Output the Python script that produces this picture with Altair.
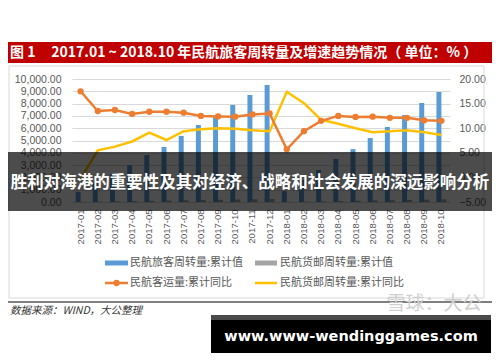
import altair as alt
import pandas as pd

months = ["2017-01", "2017-02", "2017-03", "2017-04", "2017-05", "2017-06",
          "2017-07", "2017-08", "2017-09", "2017-10", "2017-11", "2017-12",
          "2018-01", "2018-02", "2018-03", "2018-04", "2018-05", "2018-06",
          "2018-07", "2018-08", "2018-09", "2018-10"]
passenger_cum = [830, 1600, 2270, 3000, 3820, 4470, 5370, 6260, 6900, 7890, 8700, 9510,
                 880, 1800, 2600, 3500, 4300, 5200, 6100, 7070, 8050, 8940]
cargo_cum = [18, 35, 55, 75, 96, 117, 138, 159, 180, 202, 223, 244,
             20, 38, 59, 81, 102, 124, 146, 168, 190, 212]
passenger_yoy = [17.5, 13.5, 13.7, 12.9, 13.35, 13.35, 13.15, 12.5, 12.4, 12.35, 12.8, 13.0,
                 5.7, 9.4, 11.5, 12.5, 12.3, 12.35, 12.1, 12.1, 11.6, 11.5]
cargo_yoy = [-0.3, 5.5, 6.25, 7.3, 9.1, 7.6, 9.4, 9.8, 10.0, 9.9, 9.6, 9.4,
             17.4, 15.1, 11.7, 10.9, 10.0, 9.2, 9.4, 9.6, 9.2, 8.6]

series = ["民航旅客周转量:累计值", "民航货邮周转量:累计值",
          "民航客运量:累计同比", "民航货邮周转量:累计同比"]
colors = ["#5B9BD5", "#A5A5A5", "#ED7D31", "#FFC000"]

NB = "\u00a0"
title_text = ("图" + NB + "1" + NB * 5 + "2017.01" + NB + "~" + NB + "2018.10" + NB
              + "年民航旅客周转量及增速趋势情况（" + NB + "单位：%" + NB + "）")
source_text = "数据来源：WIND，大公整理"
watermark_text = "雪球：大公"
overlay_text = "胜利对海港的重要性及其对经济、战略和社会发展的深远影响分析"
site_text = "www.www-wendinggames.com"

left_ticks = list(range(0, 10001, 1000))
right_ticks = [-5, 0, 5, 10, 15, 20]

bars_df = pd.DataFrame({
    "month": months * 2,
    "series": [series[0]] * len(months) + [series[1]] * len(months),
    "value": passenger_cum + cargo_cum,
})
orange_df = pd.DataFrame({"month": months, "yoy": passenger_yoy})
yellow_df = pd.DataFrame({"month": months, "yoy": cargo_yoy})

LBL = "#595959"
CJK = "Noto Sans CJK SC"
xscale = alt.Scale(domain=months, paddingInner=0.42, paddingOuter=0.21)
xaxis = alt.Axis(title=None, labelAngle=270, labelFontSize=9.5, labelColor=LBL,
                 labelFont="Liberation Sans", ticks=False, domainColor="#D9D9D9",
                 labelPadding=7, zindex=0)

bars = alt.Chart(bars_df).mark_bar().encode(
    x=alt.X("month:N", scale=xscale, axis=xaxis),
    xOffset=alt.XOffset("series:N", scale=alt.Scale(domain=series[:2])),
    y=alt.Y("value:Q", scale=alt.Scale(domain=[0, 10000], nice=False),
            axis=alt.Axis(title=None, values=left_ticks, format=",.2f", labelFontSize=10.5,
                          labelColor=LBL, labelFont="Liberation Sans", ticks=False,
                          domain=False, gridColor="#D9D9D9", labelPadding=11, zindex=0)),
    color=alt.Color("series:N", scale=alt.Scale(domain=series[:2], range=colors[:2]),
                    legend=None),
)

raxis = alt.Axis(title=None, orient="right", values=right_ticks, format=".2f",
                 labelFontSize=10.5, labelColor=LBL, labelFont="Liberation Sans",
                 ticks=False, domain=False, grid=False, labelPadding=9, zindex=0)
yr = alt.Y("yoy:Q", scale=alt.Scale(domain=[-5, 20], nice=False), axis=raxis)

orange_line = alt.Chart(orange_df).mark_line(color=colors[2], strokeWidth=2.5).encode(
    x=alt.X("month:N", scale=xscale, axis=xaxis), y=yr)
orange_pts = alt.Chart(orange_df).mark_point(color=colors[2], filled=True, size=40,
                                             opacity=1).encode(
    x=alt.X("month:N", scale=xscale, axis=xaxis), y=yr)
yellow_line = alt.Chart(yellow_df).mark_line(color=colors[3], strokeWidth=2.5).encode(
    x=alt.X("month:N", scale=xscale, axis=xaxis), y=yr)

core = alt.layer(bars, alt.layer(yellow_line, orange_line, orange_pts)).resolve_scale(
    y="independent")

one = alt.Data(values=[{"k": 1}])


def rect(x, x2, y, y2, **kw):
    return alt.Chart(one).mark_rect(**kw).encode(
        x=alt.value(x), x2=alt.value(x2), y=alt.value(y), y2=alt.value(y2))


def rule(x, x2, y, **kw):
    return alt.Chart(one).mark_rule(**kw).encode(
        x=alt.value(x), x2=alt.value(x2), y=alt.value(y))


def txt(t, x, y, **kw):
    return alt.Chart(one).mark_text(text=t, **kw).encode(x=alt.value(x), y=alt.value(y))


deco = [
    rect(-63, 412, -13, 219, fill="white", fillOpacity=0, stroke="#D9D9D9", strokeWidth=1),
    rect(-64, 420, -37, -16, color="#C00000"),
    txt(title_text, -62, -26.5, align="left", baseline="middle", font=CJK,
        fontWeight="bold", fontSize=14, color="white"),
    # legend
    rect(33, 56, 181.5, 186.5, color=colors[0]),
    txt(series[0], 58, 184, align="left", baseline="middle", font=CJK, fontSize=11, color=LBL),
    rect(183, 205, 181.5, 186.5, color=colors[1]),
    txt(series[1], 208, 184, align="left", baseline="middle", font=CJK, fontSize=11, color=LBL),
    rule(33, 56, 204, color=colors[2], strokeWidth=2.5),
    alt.Chart(one).mark_point(color=colors[2], filled=True, size=40, opacity=1).encode(
        x=alt.value(44.5), y=alt.value(204)),
    txt(series[2], 58, 204, align="left", baseline="middle", font=CJK, fontSize=11, color=LBL),
    rule(183, 205, 204, color=colors[3], strokeWidth=2.5),
    txt(series[3], 208, 204, align="left", baseline="middle", font=CJK, fontSize=11, color=LBL),
    # source line & text
    rule(-64, 420, 223, color="#808080", strokeWidth=2),
    txt(source_text, -62, 232, align="left", baseline="middle", font=CJK, fontSize=10.5,
        fontStyle="italic", color="#333333"),
    txt(watermark_text, 362, 225, align="center", baseline="middle", font=CJK,
        fontSize=19, color="#CFCFCF"),
    # overlay band
    rect(-64, 420, 73, 132, color="black", opacity=0.7),
    txt(overlay_text, 178, 104, align="center", baseline="middle", font=CJK,
        fontWeight="bold", fontSize=16.5, color="white"),
    # black box
    rect(139, 419, 236, 274, color="#4A4A4A"),
    rect(139, 419, 241, 274, color="black"),
    txt(site_text, 279, 258, align="center", baseline="middle", font="DejaVu Sans",
        fontWeight="bold", fontSize=14.5, color="white"),
]

chart = alt.layer(core, *deco).properties(
    width=378, height=123,
    padding={"left": 64, "top": 71, "right": 42, "bottom": 152},
    autosize=alt.AutoSizeParams(type="none"),
    background="white",
).configure_view(stroke=None)

chart.save("out.html", embed_options={"renderer": "svg", "actions": False})
